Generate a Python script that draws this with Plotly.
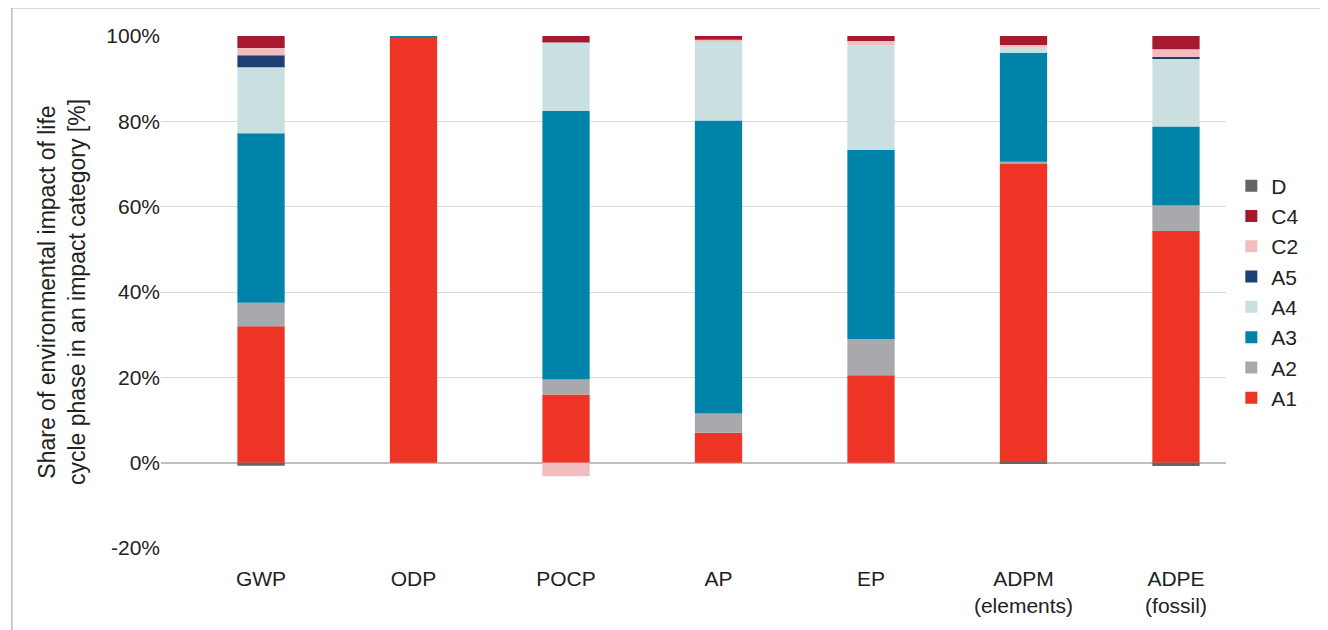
import plotly.graph_objects as go

categories = ["GWP", "ODP", "POCP", "AP", "EP", "ADPM<br>(elements)", "ADPE<br>(fossil)"]
phases = ["A1", "A2", "A3", "A4", "A5", "C2", "C4", "D"]
colors = ["#EE3424", "#A7A9AC", "#0083A9", "#C9DFE0", "#1F3F73", "#F2BDBF", "#A6192E", "#646569"]

# share per phase, one value per category (%)
A1 = [32.0, 99.8, 16.0, 7.0, 20.5, 70.0, 54.3]
A2 = [5.5, 0.0, 3.5, 4.5, 8.5, 0.5, 6.0]
A3 = [39.7, 0.2, 63.0, 68.7, 44.3, 25.6, 18.5]
A4 = [15.5, 0.0, 16.0, 18.6, 24.5, 1.5, 16.0]
A5 = [2.8, 0.0, 0.0, 0.0, 0.0, 0.0, 0.3]
C2 = [1.7, 0.0, -3.2, 0.3, 1.0, 0.3, 1.8]
C4 = [2.8, 0.0, 1.5, 0.9, 1.2, 2.1, 3.1]
D = [-0.7, 0.0, 0.0, 0.0, 0.0, -0.2, -0.8]

tick_vals = [-20, 0, 20, 40, 60, 80, 100]
tick_text = ["-20%", "0%", "20%", "40%", "60%", "80%", "100%"]

series = [A1, A2, A3, A4, A5, C2, C4, D]

fig = go.Figure()
for name, vals, col in zip(phases, series, colors):
    fig.add_trace(go.Bar(x=categories, y=vals, name=name, marker_color=col, marker_line_width=0))

fig.update_layout(
    barmode="relative",
    bargap=0.69,
    width=1328, height=630,
    paper_bgcolor="white", plot_bgcolor="white",
    font=dict(family="Arial, Liberation Sans", size=21, color="#222"),
    margin=dict(l=153, r=110, t=28, b=90),
    legend=dict(traceorder="reversed", x=1.005, y=0.5, yanchor="middle",
                font=dict(size=21), itemwidth=30),
    yaxis=dict(range=[-20, 100], tickvals=tick_vals, ticktext=tick_text, gridcolor="#D9D9D9",
               zeroline=True, zerolinecolor="#BFBFBF", zerolinewidth=1.5,
               title=dict(text="Share of environmental impact of life<br>cycle phase in an impact category [%]",
                          font=dict(size=23), standoff=14)),
    xaxis=dict(showline=False, range=[-0.656, 6.328], tickfont=dict(size=21), ticklabelstandoff=16),
    shapes=[dict(type="rect", xref="paper", yref="paper", x0=-0.14, x1=1.104, y0=-0.18, y1=1.055,
                 line=dict(color="#999", width=1))],
)

fig.write_html("out.html")
